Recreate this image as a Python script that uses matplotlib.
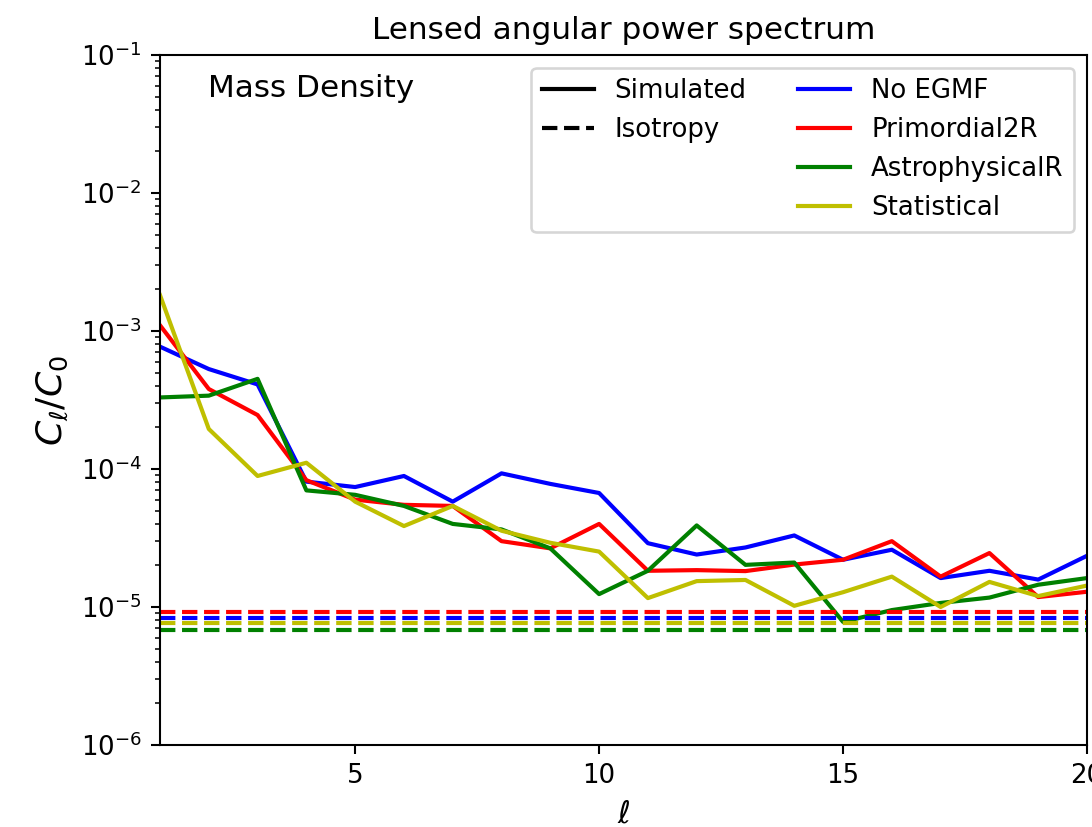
import numpy as np
import matplotlib
matplotlib.use("Agg")
import matplotlib.pyplot as plt
from matplotlib.lines import Line2D
from matplotlib.ticker import MultipleLocator

ell = np.arange(1, 21)

no_egmf = [7.7e-4, 5.3e-4, 4.1e-4, 8.1e-5, 7.4e-5, 8.9e-5, 5.8e-5, 9.3e-5, 7.8e-5, 6.7e-5,
           2.9e-5, 2.4e-5, 2.7e-5, 3.3e-5, 2.2e-5, 2.6e-5, 1.62e-5, 1.83e-5, 1.58e-5, 2.35e-5]
primordial = [1.1e-3, 3.8e-4, 2.46e-4, 8.3e-5, 6.0e-5, 5.5e-5, 5.4e-5, 3.0e-5, 2.66e-5, 4.0e-5,
              1.83e-5, 1.85e-5, 1.82e-5, 2.03e-5, 2.2e-5, 3.0e-5, 1.66e-5, 2.46e-5, 1.18e-5, 1.29e-5]
astro = [3.3e-4, 3.4e-4, 4.5e-4, 7.0e-5, 6.5e-5, 5.4e-5, 4.0e-5, 3.65e-5, 2.66e-5, 1.24e-5,
         1.83e-5, 3.9e-5, 2.02e-5, 2.1e-5, 7.8e-6, 9.5e-6, 1.07e-5, 1.17e-5, 1.45e-5, 1.62e-5]
statistical = [1.82e-3, 1.95e-4, 8.9e-5, 1.11e-4, 5.8e-5, 3.86e-5, 5.4e-5, 3.57e-5, 2.92e-5, 2.52e-5,
               1.16e-5, 1.54e-5, 1.57e-5, 1.02e-5, 1.28e-5, 1.66e-5, 1.0e-5, 1.52e-5, 1.2e-5, 1.43e-5]

# isotropic expectation for each model
iso = {"b": 8.3e-6, "r": 9.2e-6, "g": 6.8e-6, "y": 7.6e-6}

series = [(no_egmf, "b", "No EGMF"), (primordial, "r", "Primordial2R"),
          (astro, "g", "AstrophysicalR"), (statistical, "y", "Statistical")]

fig = plt.figure(figsize=(1092 / 187, 827 / 187), dpi=187)
ax = fig.add_axes([160 / 1092, 1 - 745 / 827, 927 / 1092, 690 / 827])

for vals, c, lab in series:
    ax.plot(ell, vals, color=c, lw=1.6)
for vals, c, lab in series:
    ax.plot(ell, np.full(len(ell), iso[c]), color=c, ls="--", lw=1.6)

ax.set_yscale("log")
ax.set_xlim(1, 20)
ax.set_ylim(1e-6, 1e-1)
ax.xaxis.set_major_locator(MultipleLocator(5))
ax.set_xlabel(r"$\ell$", fontsize=12)
ax.set_ylabel(r"$C_\ell/C_0$", fontsize=14)
ax.set_title("Lensed angular power spectrum", fontsize=12)
ax.text(0.052, 0.952, "Mass Density", transform=ax.transAxes, fontsize=12, va="center")

blank = Line2D([], [], color="none")
handles = [Line2D([], [], color="k", lw=1.6), Line2D([], [], color="k", ls="--", lw=1.6), blank, blank]
labels = ["Simulated", "Isotropy", "", ""]
for vals, c, lab in series:
    handles.append(Line2D([], [], color=c, lw=1.6))
    labels.append(lab)
ax.legend(handles, labels, ncol=2, loc="upper right")

fig.savefig("out.png", dpi=187)
